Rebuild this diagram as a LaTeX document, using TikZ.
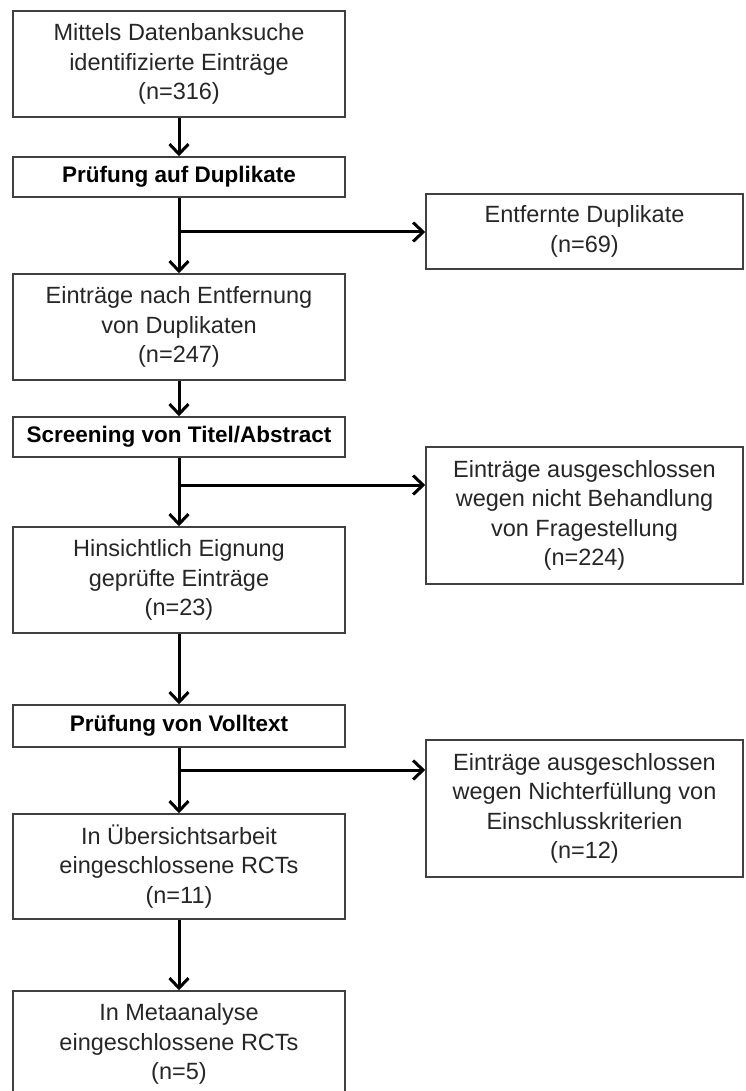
\documentclass[tikz,border=0pt]{standalone}
\usepackage{fontspec}
\setmainfont{Liberation Sans}
\usepackage{xcolor}
\usepackage{tikz}
\usetikzlibrary{positioning,calc,arrows.meta}

\definecolor{boxline}{HTML}{404040}
\definecolor{boxtext}{HTML}{262626}

\tikzset{
  entry/.style={draw=boxline, line width=1.5pt, minimum width=332pt, inner sep=0pt,
    align=center, text=boxtext, font=\fontsize{23.5}{29.5}\selectfont},
  stage/.style={entry, text=black, font=\fontsize{22.5}{27}\selectfont\bfseries},
  excl/.style={entry, minimum width=317pt},
  flow/.style={line width=3pt, -{Straight Barb[length=10pt,width=19pt]}}
}

\begin{document}
\begin{tikzpicture}[x=1pt, y=-1pt]
  \useasboundingbox (0,0) rectangle (745,1091);

  % main column
  \node[entry, minimum height=106pt] (e1) at (179,64) {Mittels Datenbanksuche\\identifizierte Einträge\\(n=316)};
  \node[stage, minimum height=40pt] (s1) at (179,177) {Prüfung auf Duplikate};
  \node[entry, minimum height=106pt] (e2) at (179,327) {Einträge nach Entfernung\\von Duplikaten\\(n=247)};
  \node[stage, minimum height=40pt] (s2) at (179,437) {Screening von Titel/Abstract};
  \node[entry, minimum height=106pt] (e3) at (179,580) {Hinsichtlich Eignung\\geprüfte Einträge\\(n=23)};
  \node[stage, minimum height=42pt] (s3) at (179,726) {Prüfung von Volltext};
  \node[entry, minimum height=105pt] (e4) at (179,866.5) {In Übersichtsarbeit\\eingeschlossene RCTs\\(n=11)};
  \node[entry, minimum height=106pt] (e5) at (179,1044) {In Metaanalyse\\eingeschlossene RCTs\\(n=5)};

  % excluded records
  \node[excl, minimum height=75pt] (x1) at (584.5,231.5) {Entfernte Duplikate\\(n=69)};
  \node[excl, minimum height=137pt] (x2) at (584.5,515.5) {Einträge ausgeschlossen\\wegen nicht Behandlung\\von Fragestellung\\(n=224)};
  \node[excl, minimum height=137pt] (x3) at (584.5,808.5) {Einträge ausgeschlossen\\wegen Nichterfüllung von\\Einschlusskriterien\\(n=12)};

  % branch points
  \coordinate (j1) at (179,232);
  \coordinate (j2) at (179,485);
  \coordinate (j3) at (179,770);

  \draw[flow] (e1) -- (s1);
  \draw[flow] (s1) -- (e2);
  \draw[flow] (j1) -- (j1 -| x1.west);
  \draw[flow] (e2) -- (s2);
  \draw[flow] (s2) -- (e3);
  \draw[flow] (j2) -- (j2 -| x2.west);
  \draw[flow] (e3) -- (s3);
  \draw[flow] (s3) -- (e4);
  \draw[flow] (j3) -- (j3 -| x3.west);
  \draw[flow] (e4) -- (e5);
\end{tikzpicture}
\end{document}
